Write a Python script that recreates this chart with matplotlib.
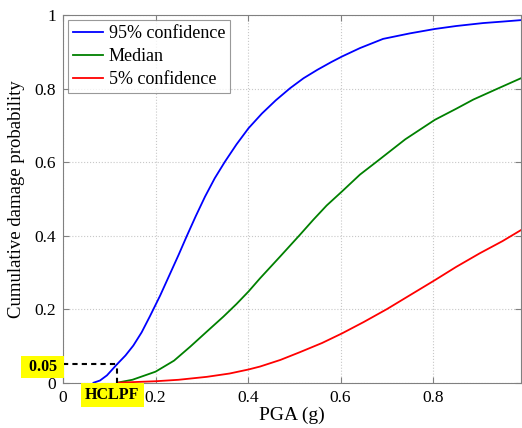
import matplotlib
matplotlib.use("Agg")
import matplotlib.pyplot as plt

# valeurs
pga_95 = [0.066, 0.08, 0.095, 0.1166, 0.135, 0.152, 0.17, 0.188, 0.21, 0.232, 0.25,
          0.268, 0.287, 0.307, 0.328, 0.35, 0.375, 0.401, 0.43, 0.46, 0.491, 0.52,
          0.55, 0.58, 0.603, 0.642, 0.692, 0.75, 0.804, 0.85, 0.908, 0.95, 0.99]
p_95 = [0.0, 0.006, 0.02, 0.05, 0.074, 0.101, 0.137, 0.181, 0.237, 0.298, 0.348,
        0.4, 0.453, 0.506, 0.556, 0.601, 0.648, 0.692, 0.732, 0.768, 0.801, 0.828,
        0.851, 0.872, 0.887, 0.91, 0.935, 0.95, 0.962, 0.97, 0.978, 0.982, 0.986]

pga_50 = [0.1166, 0.15, 0.2, 0.24, 0.275, 0.31, 0.347, 0.375, 0.401, 0.426, 0.47,
          0.512, 0.541, 0.57, 0.603, 0.642, 0.678, 0.74, 0.804, 0.85, 0.887, 0.94, 0.99]
p_50 = [0.0, 0.008, 0.03, 0.06, 0.098, 0.138, 0.18, 0.214, 0.248, 0.284, 0.344,
        0.402, 0.443, 0.482, 0.52, 0.566, 0.601, 0.662, 0.715, 0.745, 0.77, 0.80, 0.828]

pga_05 = [0.1166, 0.2, 0.25, 0.311, 0.36, 0.401, 0.426, 0.47, 0.512, 0.56, 0.603,
          0.65, 0.70, 0.75, 0.804, 0.85, 0.901, 0.95, 0.99]
p_05 = [0.0, 0.004, 0.008, 0.016, 0.025, 0.036, 0.044, 0.062, 0.083, 0.108, 0.134,
        0.165, 0.2, 0.238, 0.279, 0.315, 0.352, 0.385, 0.415]

hclpf = 0.1166
p_hclpf = 0.05

plt.rcParams['font.family'] = ['Liberation Serif', 'DejaVu Serif']

fig = plt.figure(figsize=(5.22, 4.28), dpi=100)
ax = fig.add_axes([0.1207, 0.1058, 0.998 - 0.1207, 0.965 - 0.1058])

ax.plot(pga_95, p_95, color='#0000ff', lw=1.3, label='95% confidence')
ax.plot(pga_50, p_50, color='#008000', lw=1.3, label='Median')
ax.plot(pga_05, p_05, color='#ff0000', lw=1.3, label='5% confidence')

# HCLPF
ax.plot([0, hclpf], [p_hclpf, p_hclpf], 'k--', lw=1.5, dashes=(2.5, 2))
ax.plot([hclpf, hclpf], [0, p_hclpf], 'k--', lw=1.5, dashes=(2.5, 2))

ax.set_xlim(0, 0.99)
ax.set_ylim(0, 1)
ax.set_xticks([0, 0.2, 0.4, 0.6, 0.8])
ax.set_xticklabels(['0', '0.2', '0.4', '0.6', '0.8'])
ax.set_yticks([0, 0.2, 0.4, 0.6, 0.8, 1])
ax.set_yticklabels(['0', '0.2', '0.4', '0.6', '0.8', '1'])
ax.tick_params(direction='in', length=4, color='#808080', labelsize=12.5, top=True, right=True, pad=5)
for s in ax.spines.values():
    s.set_color('#808080')
ax.grid(True, linestyle=':', color='#c8c8c8', lw=0.8)

ax.set_xlabel('PGA (g)', fontsize=14, labelpad=1)
ax.set_ylabel('Cumulative damage probability', fontsize=13.5, labelpad=7)

leg = ax.legend(loc='upper left', fontsize=13, frameon=True, fancybox=False,
                borderaxespad=0.3, handlelength=1.65, handletextpad=0.3,
                labelspacing=0.32, borderpad=0.28)
leg.get_frame().set_edgecolor('#808080')
leg.get_frame().set_linewidth(0.8)

ax.text(-0.005, p_hclpf - 0.008, ' 0.05 ', ha='right', va='center',
        fontsize=11.5, fontweight='bold', clip_on=False,
        bbox=dict(boxstyle='square,pad=0.2', facecolor='#ffff00', edgecolor='none'))
ax.text(hclpf - 0.01, -0.034, 'HCLPF', ha='center', va='center', fontsize=11.5,
        fontweight='bold', clip_on=False,
        bbox=dict(boxstyle='square,pad=0.26', facecolor='#ffff00', edgecolor='none'))

fig.savefig('out.png', dpi=100)
